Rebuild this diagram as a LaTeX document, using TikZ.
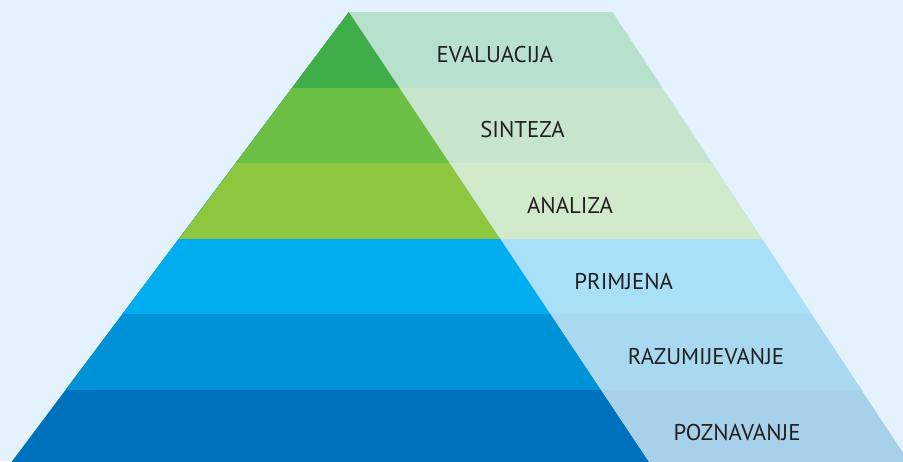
\documentclass[tikz,border=0pt]{standalone}
\usepackage{fontspec}
\setmainfont{PT Sans}
\begin{document}
\begin{tikzpicture}[x=1pt,y=-1pt,
  lbl/.style={anchor=base,inner sep=0pt,text=txt,font=\fontsize{22.8}{26}\selectfont}]
\definecolor{bg}{HTML}{E3F2FC}
\definecolor{txt}{HTML}{231F20}
\definecolor{dA}{HTML}{3FAE49}\definecolor{lA}{HTML}{B8E1CD}
\definecolor{dB}{HTML}{6CBE45}\definecolor{lB}{HTML}{C6E5CC}
\definecolor{dC}{HTML}{8DC63F}\definecolor{lC}{HTML}{D1EACB}
\definecolor{dD}{HTML}{00AEEF}\definecolor{lD}{HTML}{A8E0F7}
\definecolor{dE}{HTML}{0092D6}\definecolor{lE}{HTML}{A8D9F1}
\definecolor{dF}{HTML}{0071BC}\definecolor{lF}{HTML}{A7D1EB}
\fill[bg] (0,0) rectangle (903,461);
\useasboundingbox (0,0) rectangle (903,461);
\coordinate (apex) at (349,12);
\coordinate (tr) at (612,12);
\coordinate (lf) at (5.5,470);
\coordinate (df) at (654.5,470);
\coordinate (rf) at (914.3,470);
\clip (0,0) rectangle (903,461);
\foreach \yb/\dc/\lc in {470/dF/lF, 389.3/dE/lE, 313.5/dD/lD, 238.3/dC/lC, 162.7/dB/lB, 87/dA/lA}{
  \begin{scope}
    \clip (0,0) rectangle (903,\yb);
    \fill[\dc] (apex) -- (lf) -- (df) -- cycle;
    \fill[\lc] (apex) -- (tr) -- (rf) -- (df) -- cycle;
  \end{scope}
}
\node[lbl] (t1) at (495,62.3) {EVALUACIJA};
\node[lbl] (t2) at (522.5,137.3) {SINTEZA};
\node[lbl] (t3) at (570,213.3) {ANALIZA};
\node[lbl] (t4) at (623.7,289) {PRIMJENA};
\node[lbl] (t5) at (706,364) {RAZUMIJEVANJE};
\node[lbl] (t6) at (737,440.7) {POZNAVANJE};
\end{tikzpicture}
\end{document}
